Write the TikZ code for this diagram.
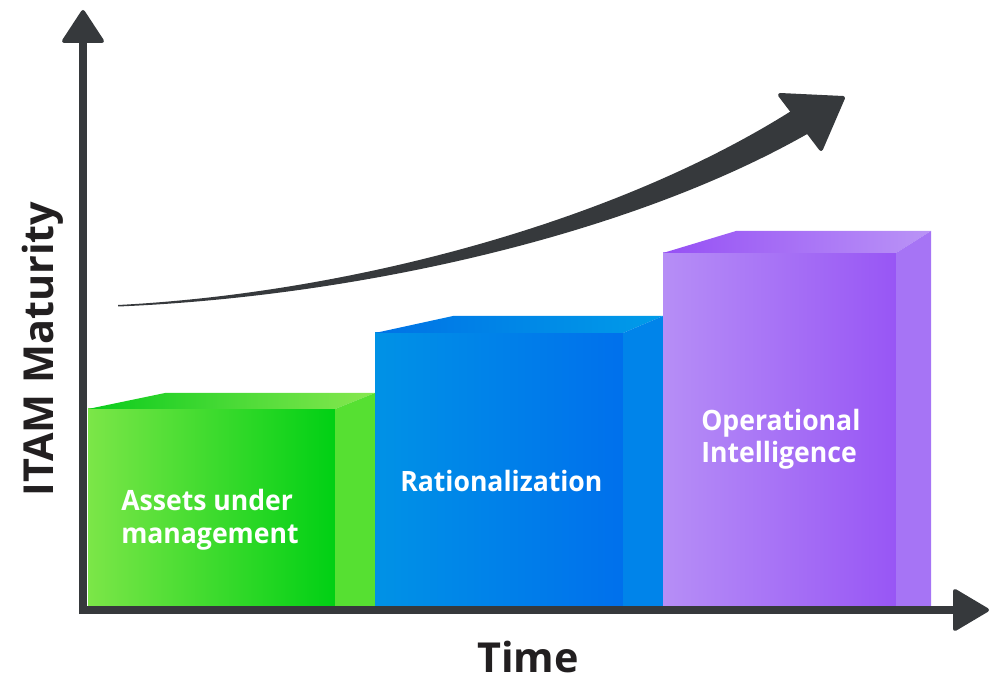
\documentclass[tikz,border=0pt]{standalone}
\usepackage{fontspec}
\setmainfont{Open Sans}
\newfontfamily\barfont{Open Sans}[FakeStretch=0.95]
\definecolor{axisc}{RGB}{54,57,60}
\definecolor{textc}{RGB}{34,31,32}
\definecolor{gL}{RGB}{124,230,72}
\definecolor{gR}{RGB}{0,208,20}
\definecolor{gTL}{RGB}{10,204,28}
\definecolor{gTR}{RGB}{136,232,80}
\definecolor{gS}{RGB}{86,224,50}
\definecolor{bL}{RGB}{0,146,230}
\definecolor{bR}{RGB}{0,112,236}
\definecolor{bTL}{RGB}{0,114,230}
\definecolor{bTR}{RGB}{0,156,232}
\definecolor{bS}{RGB}{0,132,234}
\definecolor{pL}{RGB}{182,142,246}
\definecolor{pR}{RGB}{152,86,245}
\definecolor{pTL}{RGB}{150,80,245}
\definecolor{pTR}{RGB}{186,148,246}
\definecolor{pS}{RGB}{166,116,245}
\begin{document}
\begin{tikzpicture}[x=0.75pt,y=-0.75pt,
  axisline/.style={draw=axisc,line width=6pt},
  headfill/.style={fill=axisc,draw=axisc,line width=3pt,line join=round},
  barlabel/.style={text=white,font=\barfont\fontsize{21}{24.5}\selectfont\bfseries,align=left,inner sep=0pt,anchor=base west},
  axislabel/.style={text=textc,font=\fontsize{31}{36}\selectfont\bfseries,inner sep=0pt,anchor=base}]
\useasboundingbox (0,0) rectangle (1000,698);
% green bar
\shade[left color=gL,right color=gR] (88,409) rectangle (335,606);
\shade[left color=gTL,right color=gTR] (88,409) -- (165,393) -- (375,393) -- (335,409) -- cycle;
\fill[gS] (335,409) -- (375,393) -- (375,606) -- (335,606) -- cycle;
% blue bar
\shade[left color=bL,right color=bR] (375,333) rectangle (623,606);
\shade[left color=bTL,right color=bTR] (375,333) -- (453,316) -- (663,316) -- (623,333) -- cycle;
\fill[bS] (623,333) -- (663,316) -- (663,606) -- (623,606) -- cycle;
% purple bar
\shade[left color=pL,right color=pR] (663,253) rectangle (896,606);
\shade[left color=pTL,right color=pTR] (663,253) -- (736,231) -- (931,231) -- (896,253) -- cycle;
\fill[pS] (896,253) -- (931,231) -- (931,606) -- (896,606) -- cycle;
% labels (base anchor = last line baseline)
\node[barlabel] (l1) at (121,543) {Assets under\\management};
\node[barlabel] (l2) at (400,492) {Rationalization};
\node[barlabel] (l3) at (701,463) {Operational\\Intelligence};
% axes
\coordinate (O) at (83,610);
\coordinate (ytop) at (83,40);
\coordinate (xend) at (956,610);
\draw[axisline] (83,614) -- (ytop);
\draw[axisline] (79,610) -- (xend);
\filldraw[headfill] (83,12) -- (102,41) -- (64,41) -- cycle;
\filldraw[headfill] (955,591) -- (987,610) -- (955,629) -- cycle;
% growth arrow
\fill[axisc] (118,305) .. controls (350,293) and (615.4,222.3) .. (792.8,110)
  -- (807.2,134) .. controls (624.6,237.7) and (350,297) .. (118,306.5) -- cycle;
\filldraw[headfill] (780,95) -- (843,98) -- (821,149) -- cycle;
% axis labels
\node[axislabel] (tl) at (528,672) {Time};
\node[axislabel,rotate=90] (yl) at (53,349) {ITAM Maturity};
\end{tikzpicture}
\end{document}
